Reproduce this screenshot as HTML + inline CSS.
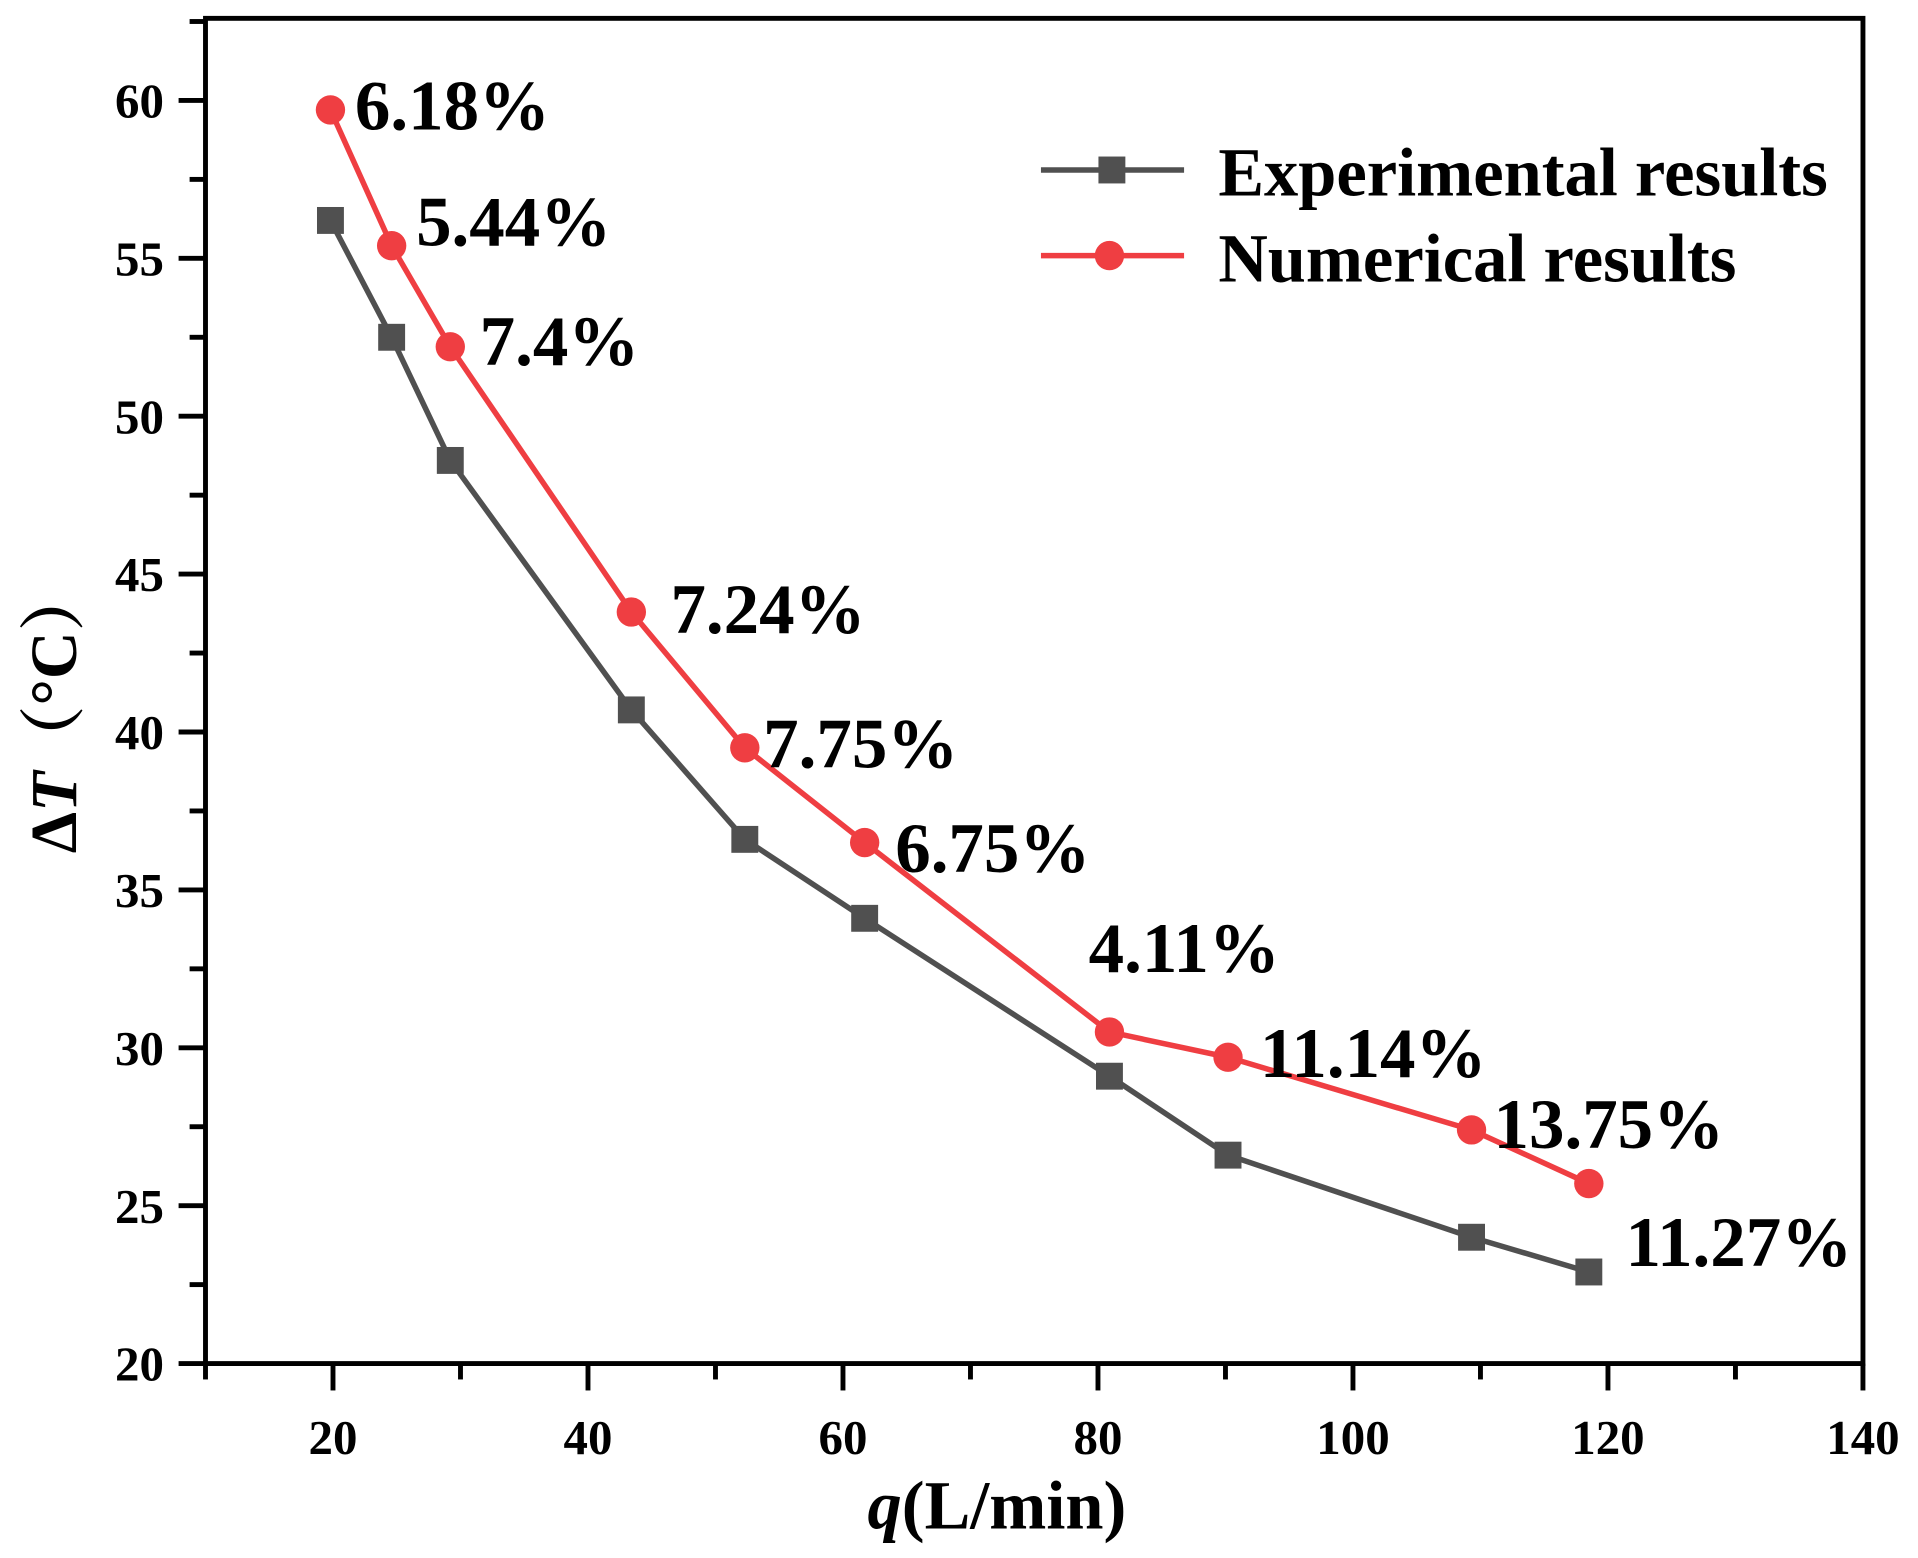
<!DOCTYPE html>
<html><head><meta charset="utf-8"><style>
html,body{margin:0;padding:0;background:#fff;}
svg{display:block;}
text{font-family:"Liberation Serif","Noto Serif CJK SC",serif;font-weight:bold;fill:#000;}
</style></head><body>
<svg id="chart" width="1918" height="1558" viewBox="0 0 1568 1274" preserveAspectRatio="none" xmlns="http://www.w3.org/2000/svg">
<g id="axes"></g>
<g id="series"></g>
<g id="legend">
  <line x1="851" y1="139" x2="968" y2="139" stroke="#505050" stroke-width="4.5"/>
  <rect x="898" y="128" width="22" height="22" fill="#505050"/>
  <text x="996" y="160" font-size="56">Experimental results</text>
  <line x1="851" y1="209" x2="968" y2="209" stroke="#ef3e42" stroke-width="4.5"/>
  <circle cx="907" cy="209" r="12" fill="#ef3e42"/>
  <text x="996" y="230" font-size="56">Numerical results</text>
</g>
<text x="815" y="1250" font-size="56" text-anchor="middle"><tspan font-style="italic">q</tspan>(L/min)</text>
<text transform="translate(62,580) rotate(-90)" font-size="54" text-anchor="middle">Δ<tspan font-style="italic">T</tspan>（°C）</text>
</svg>
<script>
const qValues = [19.8, 24.6, 29.2, 43.4, 52.3, 61.7, 80.9, 90.2, 109.3, 118.5];
const expValues = [56.2, 52.5, 48.6, 40.7, 36.6, 34.1, 29.1, 26.6, 24.0, 22.9];
const numValues = [59.7, 55.4, 52.2, 43.8, 39.5, 36.5, 30.5, 29.7, 27.4, 25.7];
const errLabels = ["6.18%", "5.44%", "7.4%", "7.24%", "7.75%", "6.75%", "4.11%", "11.14%", "13.75%", "11.27%"];
const xTicks = [20, 40, 60, 80, 100, 120, 140];
const yTicks = [20, 25, 30, 35, 40, 45, 50, 55, 60];

const NS = "http://www.w3.org/2000/svg";
const L = 168, R = 1523, T = 15, B = 1115;
const xMin = 10, xMax = 140, yMin = 20, yMax = 62.6;
function sx(v){ return L + (v - xMin) / (xMax - xMin) * (R - L); }
function sy(v){ return B - (v - yMin) / (yMax - yMin) * (B - T); }
function mk(tag, attrs, parent){
  const e = document.createElementNS(NS, tag);
  for (const k in attrs) e.setAttribute(k, attrs[k]);
  parent.appendChild(e); return e;
}
const axes = document.getElementById('axes');
const frame = mk('rect', {x:L, y:T, width:R-L, height:B-T, fill:'none', stroke:'#000', 'stroke-width':4}, axes);


for (let v = 10; v <= 140; v += 10) {
  const major = v % 20 === 0;
  const t = mk('line', {x1:sx(v), x2:sx(v), y1:B, y2:B + (major ? 22 : 13), stroke:'#000', 'stroke-width':4}, axes);
  
  
}
xTicks.forEach(v => {
  const t = mk('text', {x:sx(v), y:1189, 'font-size':40, 'text-anchor':'middle'}, axes);
  t.textContent = v;
  
  
});
for (let v = 20; v <= 62.5; v += 2.5) {
  const major = v % 5 === 0;
  const t = mk('line', {x1:L, x2:L - (major ? 22 : 13), y1:sy(v), y2:sy(v), stroke:'#000', 'stroke-width':4}, axes);
  
  
}
yTicks.forEach(v => {
  const t = mk('text', {x:134, y:sy(v) + 14, 'font-size':40, 'text-anchor':'end'}, axes);
  t.textContent = v;
  
  
});
const series = document.getElementById('series');
function pts(vals){ return vals.map((v,i) => sx(qValues[i]) + ',' + sy(v)).join(' '); }
const le = mk('polyline', {points:pts(expValues), fill:'none', stroke:'#505050', 'stroke-width':4.5, 'stroke-linejoin':'round'}, series);


const ln = mk('polyline', {points:pts(numValues), fill:'none', stroke:'#ef3e42', 'stroke-width':4.5, 'stroke-linejoin':'round'}, series);


expValues.forEach((v,i) => {
  const r = mk('rect', {x:sx(qValues[i]) - 11, y:sy(v) - 11, width:22, height:22, fill:'#505050'}, series);
  
  
});
numValues.forEach((v,i) => {
  const c = mk('circle', {cx:sx(qValues[i]), cy:sy(v), r:12, fill:'#ef3e42'}, series);
  
  
});
const lblDx = [20, 20, 24, 32, 15, 25, -17, 26, 18, 30];
const lblDy = [16, 0, 15, 17, 16, 24, -49, 16, 15, 2];
errLabels.forEach((s,i) => {
  const baseY = i === 9 ? sy(expValues[i]) - 7 : sy(numValues[i]);
  const t = mk('text', {x:sx(qValues[i]) + lblDx[i], y:baseY + lblDy[i], 'font-size':58}, series);
  t.textContent = s;
  
  
});
</script>
</body></html>
